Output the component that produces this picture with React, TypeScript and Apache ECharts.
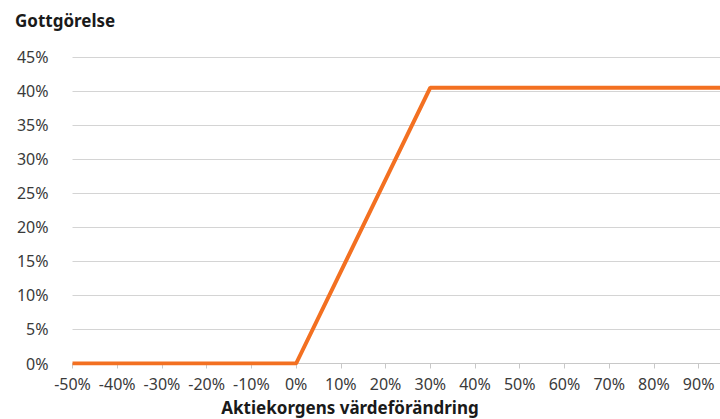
import React, { useEffect, useRef } from "react";
import * as echarts from "echarts";

const xPoints: number[] = [-50, 0, 30, 95];
const yPoints: number[] = [0, 0, 40.5, 40.5];
const yTitle = "Gottgörelse";
const xTitle = "Aktiekorgens värdeförändring";

const FONT = '"Noto Sans", sans-serif';

export default function App() {
  const ref = useRef<HTMLDivElement>(null);
  useEffect(() => {
    document.body.style.margin = "0";
    if (!ref.current) return;
    const chart = echarts.init(ref.current, undefined, { renderer: "svg" });
    chart.setOption({
      animation: false,
      backgroundColor: "#ffffff",
      grid: { left: 72.5, top: 57, right: -1, bottom: 55.5, containLabel: false, outerBoundsMode: "none" },
      xAxis: {
        type: "value",
        min: -50,
        max: 95,
        interval: 10,
        splitLine: { show: false },
        axisLine: { show: true, lineStyle: { color: "#c8c8c8", width: 1 } },
        axisTick: { show: true, length: 5, lineStyle: { color: "#c8c8c8" } },
        axisLabel: {
          formatter: (v: number) => `${v}%`,
          color: "#3a3a3a",
          fontFamily: FONT,
          fontSize: 16,
          margin: 12,
          showMaxLabel: false,
        },
      },
      yAxis: {
        type: "value",
        min: 0,
        max: 45,
        interval: 5,
        axisLine: { show: false },
        axisTick: { show: false },
        splitLine: { lineStyle: { color: "#d4d4d4", width: 1 } },
        axisLabel: {
          formatter: (v: number) => `${v}%`,
          color: "#3a3a3a",
          fontFamily: FONT,
          fontSize: 16,
          margin: 24,
        },
      },
      graphic: [
        {
          type: "text",
          left: 15,
          top: 12,
          style: {
            text: yTitle,
            font: `bold 17px ${FONT}`,
            fill: "#1a1a1a",
          },
        },
        {
          type: "text",
          x: 350,
          y: 399,
          style: {
            text: xTitle,
            font: `bold 17px ${FONT}`,
            fill: "#1a1a1a",
            textAlign: "center",
            textVerticalAlign: "top",
          },
        },
      ],
      series: [
        {
          type: "line",
          data: xPoints.map((x, i) => [x, yPoints[i]]),
          showSymbol: false,
          lineStyle: { color: "#F37021", width: 4 },
          itemStyle: { color: "#F37021" },
        },
      ],
    });
    return () => chart.dispose();
  }, []);
  return <div ref={ref} style={{ width: 720, height: 419 }} />;
}
